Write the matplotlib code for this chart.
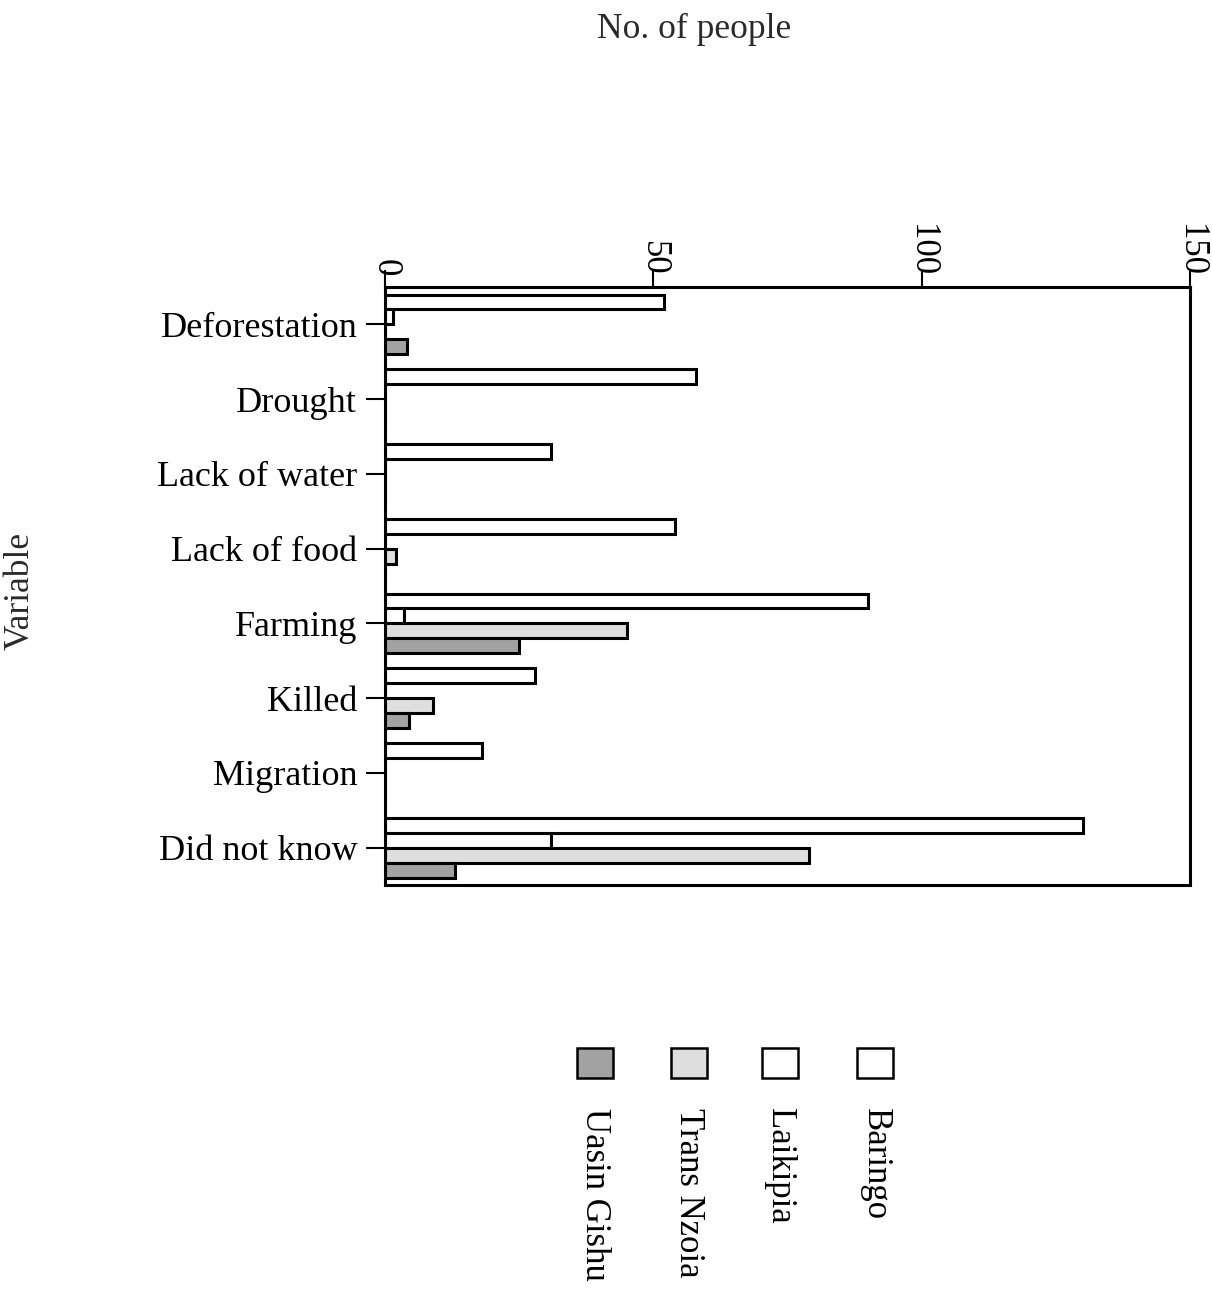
import numpy as np
import matplotlib.pyplot as plt
from matplotlib.patches import Rectangle

plt.rcParams['font.family'] = ['Liberation Serif', 'DejaVu Serif']

# Donnees
variables = ["Deforestation", "Drought", "Lack of water", "Lack of food",
             "Farming", "Killed", "Migration", "Did not know"]
baringo = [52, 58, 31, 54, 90, 28, 18, 130]
laikipia = [1.5, 0, 0, 0, 3.5, 0, 0, 31]
trans_nzoia = [0, 0, 0, 2, 45, 9, 0, 79]
uasin_gishu = [4, 0, 0, 0, 25, 4.5, 0, 13]

series = ["Baringo", "Laikipia", "Trans Nzoia", "Uasin Gishu"]
values = [baringo, laikipia, trans_nzoia, uasin_gishu]
colors = ["white", "white", "#dedede", "#a2a2a2"]

fig = plt.figure(figsize=(12.12, 12.93), dpi=100)
ax = fig.add_axes([0.3177, 0.3155, 0.6642, 0.4625])

y = np.arange(len(variables))
h = 0.2
for i, (vals, col) in enumerate(zip(values, colors)):
    ax.barh(y + (i - 1.5) * h, vals, height=h, color=col,
            edgecolor="black", linewidth=2.2)

ax.set_xlim(0, 150)
ax.set_ylim(len(variables) - 0.5, -0.5)

# axe x en haut, labels tournes
ax.xaxis.tick_top()
ax.set_xticks([0, 50, 100, 150])
ax.set_xticklabels(["0", "50", "100", "150"], rotation=-90, fontsize=25,
                   va="bottom", ha="center")
ax.tick_params(axis="x", length=12, width=1.5, pad=-4)

ax.set_yticks(y)
ax.set_yticklabels(variables, fontsize=26)
ax.tick_params(axis="y", length=14, width=1.5, pad=6)

for s in ax.spines.values():
    s.set_linewidth(2.2)

fig.text(0.573, 0.977, "No. of people", fontsize=25.5, ha="center", va="center",
         color="#2a2a2a")
fig.text(0.017, 0.543, "Variable", fontsize=25.5, rotation=90, ha="center",
         va="center", color="#2a2a2a")

# legende faite a la main (texte vertical)
leg_x = [595, 689, 780, 875]
leg_names = ["Uasin Gishu", "Trans Nzoia", "Laikipia", "Baringo"]
leg_cols = ["#a2a2a2", "#dedede", "white", "white"]
for xp, name, col in zip(leg_x, leg_names, leg_cols):
    fig.patches.append(Rectangle(((xp - 18) / 1212, 1 - 1078 / 1293),
                                 36 / 1212, 30 / 1293, facecolor=col,
                                 edgecolor="black", linewidth=1.8,
                                 transform=fig.transFigure))
    fig.text(xp / 1212, 1 - 1108 / 1293, name, rotation=-90, fontsize=25,
             ha="center", va="top")

plt.savefig("out.png", dpi=100)
